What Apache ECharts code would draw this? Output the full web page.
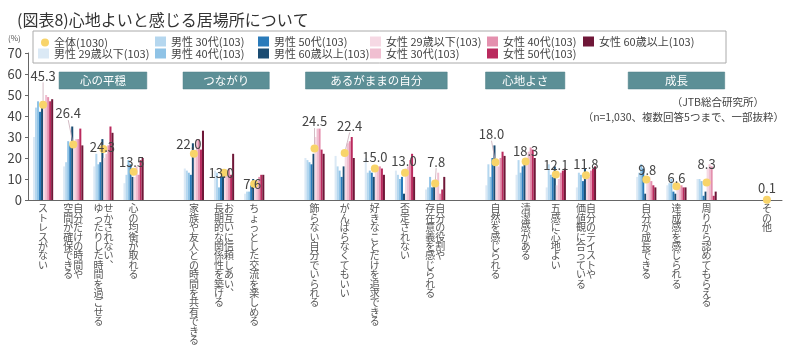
<!DOCTYPE html>
<html><head><meta charset="utf-8">
<script src="https://cdn.jsdelivr.net/npm/echarts@6/dist/echarts.min.js"></script>
<style>html,body{margin:0;padding:0;background:#fff}#c{width:800px;height:345px}</style>
</head><body><div id="c"></div>
<script>
// ---- data ----
const categories = [
  'ストレスがない', '自分だけの時間や\n空間が確保できる', 'せかされない、\nゆったりした時間を過ごせる', '心の均衡が取れる', ' ',
  '家族や友人との時間を共有できる', 'お互いに信頼しあい、\n長期的な関係性を築ける', 'ちょっとした交流を楽しめる', '  ',
  '飾らない自分でいられる', 'がんばらなくてもいい', '好きなことだけを追求できる', '否定されない', '自分の役割や\n存在意義を感じられる', '   ',
  '自然を感じられる', '清潔感がある', '五感に心地よい', '自分のテイストや\n価値観に合っている', '    ',
  '自分が成長できる', '達成感を感じられる', '周りから認めてもらえる', '     ',
  'その他'
];
const seriesNames = ['男性 29歳以下(103)', '男性 30代(103)', '男性 40代(103)', '男性 50代(103)', '男性 60歳以上(103)',
  '女性 29歳以下(103)', '女性 30代(103)', '女性 40代(103)', '女性 50代(103)', '女性 60歳以上(103)'];
const totalName = '全体(1030)';
const male29   = [30, 16, 16,  8, null, 15, 14,  3, null, 20, 21, 20, 14,  5, null,  7, 12,  6,  6, null, 11,  7, 10, null, 0];
const male30   = [44, 18, 22, 12, null, 14, 13,  4, null, 19, 16, 13, 12,  6, null, 17, 19, 17, 13, null, 13,  8, 10, null, 0];
const male40   = [47, 28, 17, 19, null, 13,  6,  4, null, 18, 14, 14, 10, 11, null, 11, 13, 12, 12, null, 17, 10,  9, null, 0];
const male50   = [42, 26, 18, 17, null, 12, 11,  7, null, 17, 11, 13, 11,  6, null, 20, 16, 11,  9, null, 15,  4,  2, null, 0];
const male60   = [47, 35, 29, 11, null, 27, 14, 10, null, 22, 16, 11,  3,  9, null, 26, 19, 16, 15, null,  3,  3,  4, null, 0];
const female29 = [45, 28, 20, 11, null, 23, 11,  8, null, 30, 23, 15, 15, 10, null, 18, 18,  7, 10, null, 10,  7, 15, null, 0];
const female30 = [50, 29, 22, 16, null, 29, 14,  9, null, 34, 27, 16, 16, 13, null, 16, 23, 10, 11, null, 11,  7, 17, null, 0];
const female40 = [49, 29, 26, 12, null, 29, 15, 11, null, 34, 28, 16, 19,  3, null, 20, 25, 13, 14, null,  9,  7, 16, null, 0];
const female50 = [47, 34, 35, 19, null, 24, 12, 12, null, 24, 30, 15, 22,  5, null, 23, 24, 14, 15, null,  7,  6,  2, null, 0];
const female60 = [48, 26, 32, 20, null, 33, 22, 12, null, 22, 20, 12, 11, 11, null, 21, 20, 15, 16, null,  6,  6,  4, null, 0];
const total    = [45.3, 26.4, 24.3, 13.5, null, 22.0, 13.0, 7.6, null, 24.5, 22.4, 15.0, 13.0, 7.8, null, 18.0, 18.3, 12.1, 11.8, null, 9.8, 6.6, 8.3, null, 0.1];
const headerNames = ['心の平穏', 'つながり', 'あるがままの自分', '心地よさ', '成長'];
const yMin = 0, yMax = 70, yStep = 10;
const titleText = '(図表8)心地よいと感じる居場所について';
const sourceText = '（JTB総合研究所）';
const noteText = '（n=1,030、複数回答5つまで、一部抜粋）';

// ---- styling / layout ----
const FONT = '"Noto Sans CJK JP", "Noto Sans", sans-serif';
const barColors = ['#dbe9f5', '#b5d7ef', '#8fc3e6', '#2b7bba', '#1b4c72', '#f6d9e4', '#f0bfd1', '#e490ae', '#ba2a5e', '#6f1738'];
const dotColor = '#f8d46a';
const headerSpans = [[0.53, 3.44], [4.64, 7.5], [8.7, 13.4], [14.67, 17.3], [19.4, 22.6]];
const labelShift = [[0,-29],[-5,-31],[-1,-2],[-2,-10],null,[-5,-10],[-3,0],[-2,0],null,[0,-27],[5,-27],[0,-11],[-1,-12],[1,-22],null,[-4,-28],[0,-11],[0,-10],[0,-11],null,[1,-9],[0,-8],[0,-19],null,[0,-12]];
const legendPos = [[41,37],[38,48],[155,36],[155,48],[258,36],[258,48],[370,36],[370,48],[487,36],[487,48],[583,36]];

function vert(v) {
  if (!v.trim()) return '';
  const cols = v.split('\n').map(s => Array.from(s.replace(/、/g, '︑')));
  const n = Math.max(...cols.map(c => c.length));
  const rc = cols.slice().reverse();
  const rows = [];
  for (let i = 0; i < n; i++) rows.push(rc.map(c => c[i] || '　').join(''));
  return rows.join('\n');
}

const allBars = [male29, male30, male40, male50, male60, female29, female30, female40, female50, female60];
const series = allBars.map((arr, i) => ({
  type: 'bar', name: seriesNames[i], data: arr,
  barGap: '0%', barCategoryGap: '33%',
  itemStyle: { color: barColors[i] }, animation: false
}));
const scatterData = [];
total.forEach((v, i) => {
  if (v == null) return;
  const s = labelShift[i] || [0, -12];
  scatterData.push({ value: [i, v], shift: s, labelLine: { show: Math.abs(s[1]) > 20 } });
});
series.push({
  type: 'scatter', name: totalName, data: scatterData, symbolSize: 8, z: 10,
  itemStyle: { color: dotColor, opacity: 1 },
  label: { show: true, position: 'inside', formatter: p => p.value[1].toFixed(1), fontSize: 13, color: '#444', fontFamily: FONT },
  labelLayout: p => { const s = scatterData[p.dataIndex].shift; return { dx: s[0], dy: s[1] }; },
  labelLine: { show: false, lineStyle: { color: '#c8a9b5', width: 0.8 } },
  animation: false
});

const legendNames = [totalName].concat(seriesNames);
const legends = legendNames.map((nm, i) => ({
  data: [nm], left: legendPos[i][0], top: legendPos[i][1], padding: 0,
  itemWidth: i === 0 ? 8 : 11, itemHeight: i === 0 ? 8 : 10, itemGap: 0,
  icon: i === 0 ? 'circle' : 'rect', selectedMode: false,
  textStyle: { fontSize: 11, color: '#444', fontFamily: FONT, padding: [0, 0, 0, 0] }
}));

const chart = echarts.init(document.getElementById('c'), null, { renderer: 'canvas' });
chart.setOption({
  backgroundColor: '#fff',
  animation: false,
  textStyle: { fontFamily: FONT },
  title: { text: titleText, left: 12, top: 7, textStyle: { fontSize: 16, fontWeight: 'normal', color: '#333', fontFamily: FONT } },
  legend: legends,
  grid: { left: 28, right: 18, top: 53, bottom: 145, containLabel: false, outerBoundsMode: 'none' },
  xAxis: {
    type: 'category', data: categories,
    axisLine: { lineStyle: { color: '#666', width: 1 } },
    axisTick: { show: false },
    axisLabel: { interval: 0, formatter: vert, fontSize: 10, lineHeight: 9.4, color: '#555', margin: 4, fontFamily: FONT }
  },
  yAxis: {
    type: 'value', min: yMin, max: yMax, interval: yStep,
    axisLine: { show: true, lineStyle: { color: '#666' } },
    axisTick: { show: true, length: 3, lineStyle: { color: '#666' } },
    splitLine: { show: false },
    axisLabel: { fontSize: 13, color: '#444', margin: 6, fontFamily: FONT }
  },
  series: series
});

// annotations & group headers (positions derived from the category axis)
const x0 = chart.convertToPixel({ xAxisIndex: 0 }, 0);
const x1 = chart.convertToPixel({ xAxisIndex: 0 }, 1);
const slot = x1 - x0;
const gx = f => x0 + f * slot;
const graphics = [
  { type: 'rect', shape: { x: 33, y: 31, width: 693, height: 32 }, style: { fill: 'none', stroke: '#aaa', lineWidth: 1 }, z: 0 },
  { type: 'text', x: 8, y: 38, style: { text: '(%)', fontSize: 8, fill: '#555', fontFamily: FONT, verticalAlign: 'middle' } },
  { type: 'text', x: 764, y: 102, style: { text: sourceText, fontSize: 10.5, fill: '#444', fontFamily: FONT, align: 'right', verticalAlign: 'middle' } },
  { type: 'text', x: 784, y: 117, style: { text: noteText, fontSize: 10.5, fill: '#444', fontFamily: FONT, align: 'right', verticalAlign: 'middle' } }
];
headerNames.forEach((nm, i) => {
  const a = gx(headerSpans[i][0]), b = gx(headerSpans[i][1]);
  graphics.push({ type: 'rect', shape: { x: a, y: 72, width: b - a, height: 17 }, style: { fill: '#5c8f96', stroke: '#4d7f86', lineWidth: 0.5 }, z: 5 });
  graphics.push({ type: 'text', x: (a + b) / 2, y: 80.5, z: 6, style: { text: nm, fontSize: 11.5, fill: '#fff', fontFamily: FONT, align: 'center', verticalAlign: 'middle' } });
});
chart.setOption({ graphic: graphics });
</script></body></html>
